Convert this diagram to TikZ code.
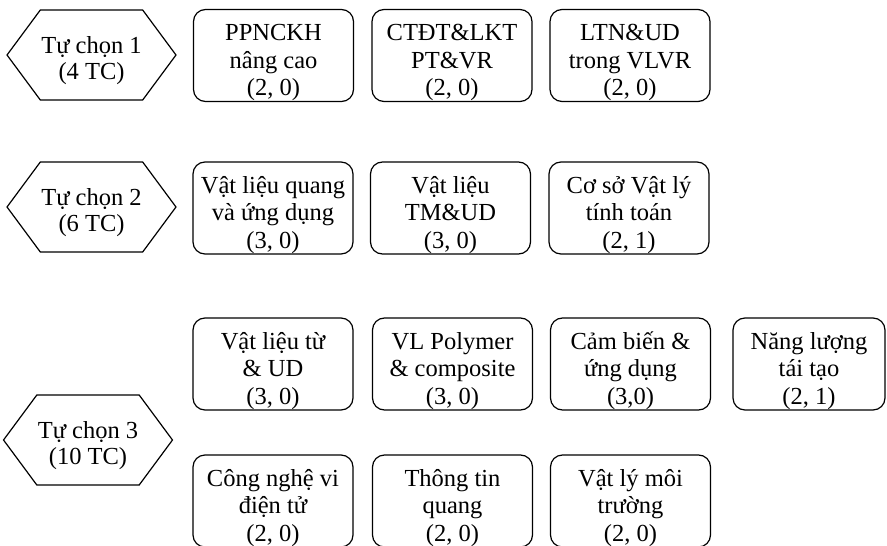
\documentclass[tikz,border=0pt]{standalone}
\usepackage{fontspec}
\setmainfont{Liberation Serif}
\usepackage{tikz}
\usetikzlibrary{shapes.symbols}

\tikzset{
    course/.style={draw, rounded corners=12pt, line width=1.2pt,
        minimum width=160pt, minimum height=92pt, align=center, inner sep=1pt,
        font=\fontsize{24.5}{27.5}\selectfont, text height=85pt, text depth=5pt},
    elective/.style={draw, signal, signal to=west and east,
        signal pointer angle=107, line width=1.2pt,
        minimum width=162pt, minimum height=90pt, align=center, inner sep=1pt,
        font=\fontsize{24.5}{26}\selectfont, text height=60pt, text depth=12pt}
}

\begin{document}
\begin{tikzpicture}[
        x=1pt, y=-1pt
    ]
        \useasboundingbox (0, 0) rectangle (887, 546);
        % Tu chon 1
        \node[elective] (tc1) at (91.5, 55) {Tự chọn 1\\(4 TC)};
        \node[course] (ppnckh) at (273.5, 55.5) {PPNCKH\\nâng cao\\(2, 0)};
        \node[course] (ctdt) at (452, 55.5) {CTĐT\&LKT\\PT\&VR\\(2, 0)};
        \node[course] (ltn) at (630, 55.5) {LTN\&UD\\trong VLVR\\(2, 0)};
        % Tu chon 2
        \node[elective] (tc2) at (91.5, 207) {Tự chọn 2\\(6 TC)};
        \node[course] (vlquang) at (273, 208) {Vật liệu quang\\và ứng dụng\\(3, 0)};
        \node[course] (vltm) at (450.5, 208) {Vật liệu\\TM\&UD\\(3, 0)};
        \node[course] (csvl) at (629, 208) {Cơ sở Vật lý\\tính toán\\(2, 1)};
        % Tu chon 3
        \node[elective] (tc3) at (88, 440) {Tự chọn 3\\(10 TC)};
        \node[course] (vltu) at (273, 364) {Vật liệu từ\\\& UD\\(3, 0)};
        \node[course] (vlpoly) at (452.5, 364) {VL Polymer\\\& composite\\(3, 0)};
        \node[course] (cambien) at (630.5, 364) {Cảm biến \&\\ứng dụng\\(3,0)};
        \node[course, minimum width=152pt] (nangluong) at (809, 364) {Năng lượng\\tái tạo\\(2, 1)};
        \node[course] (cnvdt) at (273, 501) {Công nghệ vi\\điện tử\\(2, 0)};
        \node[course] (ttquang) at (452.5, 501) {Thông tin\\quang\\(2, 0)};
        \node[course] (vlmt) at (630.5, 501) {Vật lý môi\\trường\\(2, 0)};
    \end{tikzpicture}
\end{document}
